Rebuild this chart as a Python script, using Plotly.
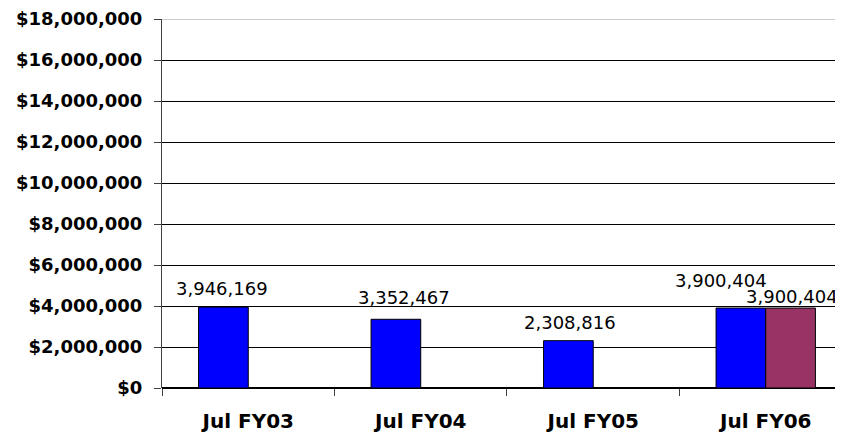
import plotly.graph_objects as go

categories = ["Jul FY03", "Jul FY04", "Jul FY05", "Jul FY06"]
series_a = [3946169, 3352467, 2308816, 3900404]
series_b = [None, None, None, 3900404]
y_ticks = [0, 2000000, 4000000, 6000000, 8000000, 10000000, 12000000, 14000000, 16000000, 18000000]
y_tick_text = ["$" + format(v, ",") for v in y_ticks]

fig = go.Figure()
fig.add_trace(go.Bar(x=categories, y=series_a, marker=dict(color="#0000FF", line=dict(color="#000000", width=1)), name="A"))
fig.add_trace(go.Bar(x=categories, y=series_b, marker=dict(color="#993366", line=dict(color="#000000", width=1)), name="B"))

label_font = dict(family="DejaVu Sans", size=18, color="#000000")
# per-label pixel nudges (label placement from reference)
a_shift = [(-26, 6), (-17, 9), (-23, 6), (-45, 15)]
for cat, v, (dx, dy) in zip(categories, series_a, a_shift):
    fig.add_annotation(x=cat, y=v, text=format(v, ","), showarrow=False, xanchor="center", yanchor="bottom",
                       xshift=dx, yshift=dy, font=label_font)
for cat, v in zip(categories, series_b):
    if v is not None:
        fig.add_annotation(x=cat, y=v, text=format(v, ","), showarrow=False, xanchor="center", yanchor="bottom",
                           xshift=26, yshift=-1, font=label_font)

# the page body has an 8px margin, so the figure is sized to fit the window
fig.update_layout(
    width=835, height=425,
    margin=dict(l=154, r=0, t=11, b=45),
    paper_bgcolor="white", plot_bgcolor="white",
    barmode="group", bargap=0.424, bargroupgap=0,
    showlegend=False,
    font=dict(family="DejaVu Sans", color="#000000"),
)
fig.update_xaxes(
    range=[-0.5, 3.448], tickson="boundaries", ticks="outside", ticklen=7, tickcolor="#404040",
    showline=False, showgrid=False, automargin=False,
    tickfont=dict(family="DejaVu Sans", size=20, color="#000000", weight="bold"),
    ticklabelstandoff=19,
)
fig.update_yaxes(
    range=[0, 18000000], tickvals=y_ticks, ticktext=y_tick_text, ticks="outside", ticklen=7,
    tickcolor="#404040", showline=True, linecolor="#404040", linewidth=1, automargin=False,
    showgrid=True, gridcolor="#000000", gridwidth=1, zeroline=True, zerolinecolor="#000000",
    tickfont=dict(family="DejaVu Sans", size=18, color="#000000", weight="bold"), ticklabelstandoff=8,
)
fig.update_traces(cliponaxis=False)
fig.add_shape(type="line", xref="paper", yref="y", x0=0, x1=1, y0=18000000, y1=18000000,
              line=dict(color="#999999", width=1))
fig.write_html("out.html")
